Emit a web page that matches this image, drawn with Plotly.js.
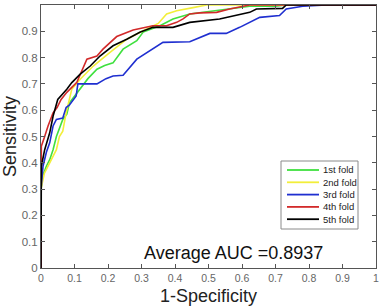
<!DOCTYPE html>
<html>
<head>
<meta charset="utf-8">
<script src="https://cdn.plot.ly/plotly-3.0.1.min.js"></script>
<style>html,body{margin:0;padding:0;background:#fff;}#chart{width:380px;height:307px;}</style>
</head>
<body>
<div id="chart"></div>
<script>
// Fold names and colours
const foldNames = ["1st fold", "2nd fold", "3rd fold", "4th fold", "5th fold"];
const foldColors = ["#3fe03f", "#f2ee3a", "#1f2fd0", "#d22a2a", "#000000"];

// ROC points (1-specificity, sensitivity)
const fold1X = [0, 0, 0.005, 0.016, 0.026, 0.036, 0.046, 0.052, 0.065, 0.077, 0.085, 0.092, 0.117, 0.14, 0.167, 0.19, 0.215, 0.245, 0.286, 0.305, 0.355, 0.394, 0.444, 0.504, 0.56, 0.623, 0.7, 0.732, 1];
const fold1Y = [0, 0.3, 0.35, 0.387, 0.412, 0.45, 0.50, 0.52, 0.565, 0.585, 0.628, 0.64, 0.68, 0.72, 0.756, 0.77, 0.78, 0.832, 0.864, 0.897, 0.921, 0.947, 0.966, 0.975, 0.985, 0.995, 0.995, 1, 1];

const fold2X = [0, 0, 0.01, 0.03, 0.046, 0.055, 0.065, 0.075, 0.092, 0.117, 0.156, 0.206, 0.256, 0.305, 0.35, 0.375, 0.405, 0.454, 0.494, 1];
const fold2Y = [0, 0.3, 0.36, 0.41, 0.45, 0.50, 0.52, 0.59, 0.68, 0.718, 0.768, 0.82, 0.87, 0.902, 0.93, 0.966, 0.978, 0.99, 1, 1];

const fold3X = [0, 0, 0.006, 0.016, 0.026, 0.036, 0.046, 0.065, 0.075, 0.085, 0.105, 0.11, 0.167, 0.194, 0.215, 0.245, 0.286, 0.33, 0.364, 0.444, 0.504, 0.553, 0.593, 0.653, 0.712, 0.732, 0.781, 0.851, 1];
const fold3Y = [0, 0.3, 0.387, 0.44, 0.476, 0.54, 0.565, 0.57, 0.61, 0.62, 0.654, 0.70, 0.70, 0.72, 0.73, 0.733, 0.794, 0.83, 0.858, 0.86, 0.892, 0.892, 0.915, 0.953, 0.96, 0.985, 0.995, 1, 1];

const fold4X = [0, 0, 0.001, 0.011, 0.021, 0.036, 0.048, 0.06, 0.077, 0.107, 0.137, 0.167, 0.185, 0.226, 0.275, 0.334, 0.375, 0.405, 0.424, 0.444, 0.474, 0.524, 0.563, 0.623, 1];
const fold4Y = [0, 0.3, 0.463, 0.5, 0.54, 0.59, 0.61, 0.641, 0.668, 0.706, 0.794, 0.806, 0.832, 0.88, 0.905, 0.921, 0.921, 0.934, 0.947, 0.966, 0.97, 0.972, 0.985, 1, 1];

const fold5X = [0, 0, 0.001, 0.011, 0.026, 0.036, 0.05, 0.077, 0.092, 0.117, 0.147, 0.176, 0.215, 0.256, 0.295, 0.334, 0.394, 0.444, 0.533, 0.623, 0.643, 0.721, 0.732, 1];
const fold5Y = [0, 0.3, 0.387, 0.45, 0.514, 0.577, 0.641, 0.68, 0.705, 0.737, 0.768, 0.806, 0.845, 0.87, 0.896, 0.915, 0.915, 0.934, 0.947, 0.972, 0.985, 0.987, 1, 1];

const xTickVals = [0, 0.1, 0.2, 0.3, 0.4, 0.5, 0.6, 0.7, 0.8, 0.9, 1];
const xTickText = ["0", "0.1", "0.2", "0.3", "0.4", "0.5", "0.6", "0.7", "0.8", "0.9", "1"];
const yTickVals = [0, 0.1, 0.2, 0.3, 0.4, 0.5, 0.6, 0.7, 0.8, 0.9, 1];
const yTickText = ["0", "0.1", "0.2", "0.3", "0.4", "0.5", "0.6", "0.7", "0.8", "0.9", "1"];

const aucText = "Average AUC =0.8937";

const xs = [fold1X, fold2X, fold3X, fold4X, fold5X];
const ys = [fold1Y, fold2Y, fold3Y, fold4Y, fold5Y];

const traces = foldNames.map((n, i) => ({
  x: xs[i], y: ys[i], type: 'scatter', mode: 'lines', name: n,
  line: {color: foldColors[i], width: 1.6}, showlegend: false
}));

// Manual compact legend (paper coords), plot area is 41..376 px wide, 5..268 px tall
const L = 41, W = 335, T = 5, H = 263;
const px = v => (v - L) / W;
const py = v => (T + H - v) / H;
const shapes = [{
  type: 'rect', xref: 'paper', yref: 'paper',
  x0: px(281), x1: px(358), y0: py(229), y1: py(161),
  line: {color: '#8a8a8a', width: 1}, fillcolor: '#ffffff', layer: 'above'
}];
const annotations = [];
foldNames.forEach((n, i) => {
  const yy = 170 + i * 12.3;
  shapes.push({type: 'line', xref: 'paper', yref: 'paper', x0: px(287), x1: px(319), y0: py(yy), y1: py(yy),
    line: {color: foldColors[i], width: 1.8}, layer: 'above'});
  annotations.push({xref: 'paper', yref: 'paper', x: px(321), y: py(yy), xanchor: 'left', yanchor: 'middle',
    text: n, showarrow: false, font: {family: 'Liberation Sans, Arial', size: 9.5, color: '#222'}});
});
annotations.push({xref: 'x', yref: 'y', x: 0.575, y: 0.057, text: aucText, showarrow: false,
  xanchor: 'center', yanchor: 'middle', font: {family: 'Liberation Sans, Arial', size: 18, color: '#111'}});

const axisCommon = {
  range: [0, 1], showgrid: false, zeroline: false, showline: true, mirror: 'ticks',
  linecolor: '#555', linewidth: 1, ticks: 'inside', ticklen: 4, tickcolor: '#555',
  fixedrange: true
};

const layout = {
  width: 380, height: 307,
  margin: {l: L, r: 380 - L - W, t: T, b: 307 - T - H},
  paper_bgcolor: '#fff', plot_bgcolor: '#fff',
  xaxis: Object.assign({}, axisCommon, {tickvals: xTickVals, ticktext: xTickText,
    tickfont: {family: 'Liberation Sans, Arial', size: 10.5, color: '#666'},
    title: {text: '1-Specificity', font: {family: 'Liberation Sans, Arial', size: 18, color: '#222'}, standoff: 6}}),
  yaxis: Object.assign({}, axisCommon, {tickvals: yTickVals, ticktext: yTickText,
    tickfont: {family: 'Liberation Sans, Arial', size: 11.5, color: '#666'},
    title: {text: 'Sensitivity', font: {family: 'Liberation Sans, Arial', size: 18, color: '#222'}, standoff: 3}}),
  shapes: shapes, annotations: annotations, showlegend: false
};

Plotly.newPlot('chart', traces, layout, {staticPlot: true, displayModeBar: false});
</script>
</body>
</html>
